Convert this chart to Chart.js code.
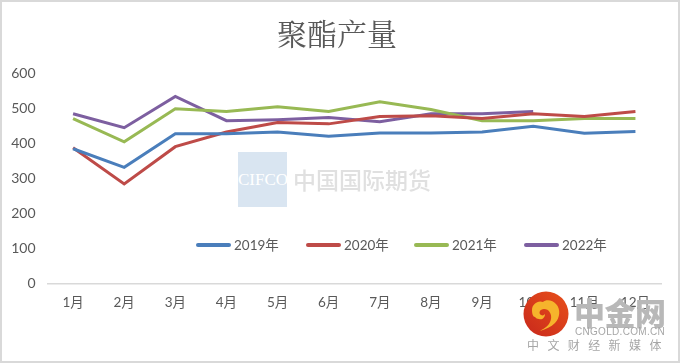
<!DOCTYPE html>
<html>
<head>
<meta charset="utf-8">
<script src="https://cdn.jsdelivr.net/npm/chart.js@4"></script>
<style>
  html, body { margin: 0; padding: 0; background: #fff; }
  #wrap { position: relative; width: 680px; height: 363px; overflow: hidden; font-family: "Noto Sans CJK SC", sans-serif; }
  #frame { position: absolute; left: 0; top: 0; width: 680px; height: 363px; box-sizing: border-box; border: 2px solid #d9d9d9; }
  #cifcoBox { position: absolute; left: 238px; top: 152px; width: 49px; height: 55px; background: #d9e5f1; color: #fff; font: 17px/55px "Liberation Serif", serif; white-space: nowrap; text-align: center; overflow: hidden; }
  #cifcoText { position: absolute; left: 293px; top: 161px; font-size: 23px; line-height: 36px; color: #e0e0e0; font-weight: 500; white-space: nowrap; }
  .key { position: absolute; top: 243px; width: 35px; height: 3.5px; border-radius: 2px; }
  .lab { position: absolute; top: 236px; font: 13.5px/18px Lato, "Noto Sans CJK SC", sans-serif; color: #595959; white-space: nowrap; }
  #logo { position: absolute; left: 523px; top: 291px; width: 46px; height: 46px; }
  #brand { position: absolute; left: 574px; top: 292px; font-size: 31px; line-height: 40px; font-weight: 900; color: #b8b8b8; white-space: nowrap; letter-spacing: -0.5px; }
  #brandEn { position: absolute; left: 575px; top: 325px; font: 10px/14px "Liberation Sans", sans-serif; color: #a6a6a6; white-space: nowrap; letter-spacing: 0.3px; }
  #brandCn { position: absolute; left: 527px; top: 337px; font-size: 12px; line-height: 16px; color: #a6a6a6; white-space: nowrap; letter-spacing: 8.4px; }
</style>
</head>
<body>
<div id="wrap">
  <canvas id="chart" width="680" height="363"></canvas>
  <div id="cifcoBox">CIFCO</div>
  <div id="cifcoText">中国国际期货</div>
  <div id="legend"></div>
  <svg id="logo" viewBox="0 0 46 46">
    <defs>
      <linearGradient id="redGrad" x1="0" y1="1" x2="1" y2="0">
        <stop offset="0" stop-color="#c8281c"/>
        <stop offset="1" stop-color="#e8501a"/>
      </linearGradient>
    </defs>
    <circle cx="23" cy="23" r="22.5" fill="url(#redGrad)"/>
    <path d="M9 19c0-6 6-10 11-8 3-3 10-2 13 2 5 5 4 14-1 19-4 4-9 6-15 8 5-3 10-6 11-12 1-5-2-10-7-10-4 0-6 4-3 6 2 1 3 0 4-1 0 4-3 6-6 5-2 0-3-1-4-2-2 0-3-3-3-7z" fill="#f6b42c"/>
  </svg>
  <div id="brand">中金网</div>
  <div id="brandEn">CNGOLD.COM.CN</div>
  <div id="brandCn">中文财经新媒体</div>
  <div id="frame"></div>
</div>
<script>
const months = ['1月', '2月', '3月', '4月', '5月', '6月', '7月', '8月', '9月', '10月', '11月', '12月'];
const y2019 = [384, 331, 427, 427, 432, 420, 429, 429, 432, 448, 428, 433];
const y2020 = [387, 284, 390, 432, 459, 455, 476, 478, 470, 484, 476, 490];
const y2021 = [470, 404, 498, 490, 504, 490, 518, 496, 464, 464, 470, 470];
const y2022 = [484, 444, 533, 464, 467, 473, 461, 484, 484, 490, null, null];

const seriesNames = ['2019年', '2020年', '2021年', '2022年'];
const seriesValues = [y2019, y2020, y2021, y2022];
const seriesColors = ['#4a7ebb', '#be4b48', '#98b954', '#7d5fa0'];

new Chart(document.getElementById('chart'), {
  type: 'line',
  data: {
    labels: months,
    datasets: seriesNames.map((name, i) => ({
      label: name,
      data: seriesValues[i],
      borderColor: seriesColors[i],
      borderWidth: 3,
      pointRadius: 0,
      tension: 0,
      spanGaps: false
    }))
  },
  options: {
    responsive: false,
    animation: false,
    layout: { padding: { right: 19 } },
    plugins: {
      legend: { display: false },
      tooltip: { enabled: false },
      title: {
        display: true,
        text: '聚酯产量',
        color: '#595959',
        font: { family: '"Noto Serif CJK SC", "Noto Sans CJK SC"', size: 30, weight: 'normal' },
        padding: { top: 16, bottom: 0 }
      }
    },
    scales: {
      x: {
        offset: true,
        afterFit(scale) { scale.height = 363 - 283.5; },
        grid: { display: false, drawTicks: false },
        border: { color: '#d9d9d9', width: 1.5 },
        ticks: { color: '#595959', padding: 11, maxRotation: 0, autoSkip: false, font: { family: 'Lato, "Noto Sans CJK SC"', size: 13.5 } }
      },
      y: {
        min: 0,
        max: 600,
        afterFit(scale) { scale.width = 47.5; },
        grid: { display: false, drawTicks: false },
        border: { display: false },
        ticks: { stepSize: 100, color: '#595959', padding: 12, font: { family: 'Lato', size: 14 } }
      }
    }
  },
  plugins: [{
    id: 'plotTop',
    afterLayout(chart) {
      // pin the plot to the reference's 0 and 600 lines, and the title to its centre
      const y = chart.scales.y;
      y.top = 73; y.bottom = 283.5; y.height = 210.5;
      y.configure();
      chart.chartArea.top = 73;
      chart.chartArea.height = 210.5;
      chart.chartArea.bottom = 283.5;
      chart.titleBlock.left = 13;
    }
  }]
});

// legend sits inside the plot, so it is placed by hand
const legendEl = document.getElementById('legend');
const legendX = [196, 306, 414, 524];
seriesNames.forEach((name, i) => {
  legendEl.insertAdjacentHTML('beforeend',
    '<div class="key" style="left:' + legendX[i] + 'px;background:' + seriesColors[i] + '"></div>' +
    '<div class="lab" style="left:' + (legendX[i] + 38) + 'px">' + name + '</div>');
});
</script>
</body>
</html>
